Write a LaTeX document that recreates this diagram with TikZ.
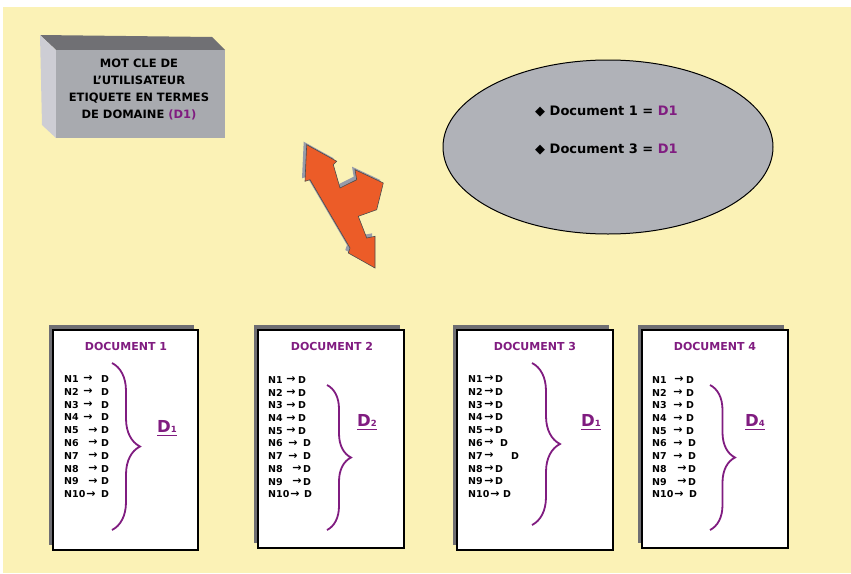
\documentclass[tikz,border=0pt]{standalone}
\usepackage{fontspec}
\setmainfont{DejaVu Sans}
\usetikzlibrary{decorations.pathreplacing,shapes.geometric}
\definecolor{bg}{RGB}{251,242,182}
\definecolor{purp}{RGB}{128,28,128}
\definecolor{orng}{RGB}{236,92,40}
\definecolor{boxfront}{RGB}{168,170,175}
\definecolor{boxtop}{RGB}{112,112,116}
\definecolor{boxside}{RGB}{205,205,212}
\definecolor{ellfill}{RGB}{176,178,184}
\definecolor{shad}{RGB}{110,110,115}
\definecolor{arrshad}{RGB}{150,155,170}
\tikzset{
  page/.style={draw=black, line width=1.6pt, fill=white},
  pageshadow/.style={fill=shad},
  doctitle/.style={text=purp, font=\bfseries\fontsize{11}{13}\selectfont, inner sep=0pt},
  linetxt/.style={font=\bfseries\fontsize{9.5}{10}\selectfont, inner sep=0pt, anchor=west},
  arr/.style={font=\bfseries\fontsize{11}{11}\selectfont, inner sep=0pt},
  dbrace/.style={draw=purp, line width=1.8pt, decorate},
  dlabel/.style={text=purp, font=\bfseries\fontsize{16.5}{18}\selectfont, inner sep=0pt, anchor=base west},
  ultxt/.style={draw=purp, line width=1.2pt},
  elltxt/.style={font=\bfseries\fontsize{13}{15}\selectfont, inner sep=0pt, anchor=west}
}
\begin{document}
\begin{tikzpicture}[x=1pt,y=-1pt]
\useasboundingbox (0,0) rectangle (851,573);
\fill[white] (0,0) rectangle (851,573);
\fill[bg] (3,7) rectangle (851,573);

% 3D box
\fill[boxtop] (40,35) -- (212,37) -- (225,50) -- (56,50) -- cycle;
\fill[boxside] (40,35) -- (56,50) -- (56,138) -- (42,125) -- cycle;
\fill[boxfront] (56,50) rectangle (225,138);
\node[name=kw, font=\bfseries\fontsize{11.5}{17}\selectfont, align=center, inner sep=0pt] at (139,89)
  {MOT CLE DE\\L’UTILISATEUR\\ETIQUETE EN TERMES\\DE DOMAINE \textcolor{purp}{(D1)}};

% orange double arrow (shadow then arrow)
\def\arrowpath{(306.7,144.7) -- (336.7,161.3) -- (333.3,164.7) -- (340,188) -- (356.7,179.7) -- (355,169.7) -- (383.3,183) -- (376.7,209.7) -- (358.3,216.3) -- (366.7,238) -- (375,236.3) -- (375,268) -- (348.3,253) -- (350,248) -- (310,179.7) -- (305,181.3) -- cycle}
\begin{scope}[shift={(-3,-3)}]
\fill[arrshad] \arrowpath;
\end{scope}
\filldraw[fill=orng, draw=black!70, line width=0.6pt] \arrowpath;

% ellipse
\node[name=ell, ellipse, draw=black, line width=1pt, fill=ellfill, minimum width=330, minimum height=174, inner sep=0pt] at (608,147) {};
\node[name=e1, elltxt] at (535,112) {◆ Document 1 = \textcolor{purp}{D1}};
\node[name=e2, elltxt] at (535,149) {◆ Document 3 = \textcolor{purp}{D1}};

% ---------- Document 1
\fill[pageshadow] (49,325) rectangle (194,545);
\draw[page] (53,330) rectangle (198,550);
\node[name=t1, doctitle] at (126,346) {DOCUMENT 1};
\foreach \i/\ax/\dx in {1/88/101,2/88/101,3/88/101,4/88/101,5/93/101,6/93/101,7/93/101,8/93/101,9/93/101,10/91/101}{
  \node[name=a-n\i, linetxt] at (64,{379+(\i-1)*12.8}) {N\i};
  \node[name=a-a\i, arr] at (\ax,{379+(\i-1)*12.8}) {→};
  \node[name=a-d\i, linetxt] at (\dx,{379+(\i-1)*12.8}) {D};
}
\coordinate (b1t) at (112,363); \coordinate (b1b) at (112,530);
\draw[dbrace, decoration={brace, amplitude=28pt}] (b1t) -- (b1b);
\node[name=l1, dlabel] at (157,432) {D{\fontsize{8.5}{9}\selectfont 1}};
\draw[ultxt] ([yshift=-3.5pt]l1.base west) -- ([yshift=-3.5pt]l1.base east);

% ---------- Document 2
\fill[pageshadow] (254,325) rectangle (400,543);
\draw[page] (258,330) rectangle (404,548);
\node[name=t2, doctitle] at (332,346) {DOCUMENT 2};
\foreach \i/\ax/\dx in {1/291/298,2/291/298,3/291/298,4/291/298,5/291/298,6/293/303,7/293/303,8/297/303,9/297/303,10/295/304}{
  \node[name=b-n\i, linetxt] at (268,{380+(\i-1)*12.7}) {N\i};
  \node[name=b-a\i, arr] at (\ax,{380+(\i-1)*12.7}) {→};
  \node[name=b-d\i, linetxt] at (\dx,{380+(\i-1)*12.7}) {D};
}
\coordinate (b2t) at (327,385); \coordinate (b2b) at (327,530);
\draw[dbrace, decoration={brace, amplitude=24pt}] (b2t) -- (b2b);
\node[name=l2, dlabel] at (357,426) {D{\fontsize{8.5}{9}\selectfont 2}};
\draw[ultxt] ([yshift=-3.5pt]l2.base west) -- ([yshift=-3.5pt]l2.base east);

% ---------- Document 3
\fill[pageshadow] (453,325) rectangle (609,545);
\draw[page] (457,330) rectangle (613,550);
\node[name=t3, doctitle] at (535,346) {DOCUMENT 3};
\foreach \i/\ax/\dx in {1/489/495,2/489/495,3/489/495,4/489/495,5/489/495,6/489/500,7/489/511,8/489/495,9/489/495,10/495/503}{
  \node[name=c-n\i, linetxt] at (468,{379+(\i-1)*12.8}) {N\i};
  \node[name=c-a\i, arr] at (\ax,{379+(\i-1)*12.8}) {→};
  \node[name=c-d\i, linetxt] at (\dx,{379+(\i-1)*12.8}) {D};
}
\coordinate (b3t) at (532,363); \coordinate (b3b) at (532,525);
\draw[dbrace, decoration={brace, amplitude=28pt}] (b3t) -- (b3b);
\node[name=l3, dlabel] at (581,426) {D{\fontsize{8.5}{9}\selectfont 1}};
\draw[ultxt] ([yshift=-3.5pt]l3.base west) -- ([yshift=-3.5pt]l3.base east);

% ---------- Document 4
\fill[pageshadow] (638,325) rectangle (784,543);
\draw[page] (642,330) rectangle (788,548);
\node[name=t4, doctitle] at (715,346) {DOCUMENT 4};
\foreach \i/\ax/\dx in {1/679/686,2/678/686,3/678/686,4/678/686,5/678/686,6/678/688,7/678/688,8/682/688,9/682/688,10/679/689}{
  \node[name=d-n\i, linetxt] at (652,{380+(\i-1)*12.7}) {N\i};
  \node[name=d-a\i, arr] at (\ax,{380+(\i-1)*12.7}) {→};
  \node[name=d-d\i, linetxt] at (\dx,{380+(\i-1)*12.7}) {D};
}
\coordinate (b4t) at (710,385); \coordinate (b4b) at (710,530);
\draw[dbrace, decoration={brace, amplitude=25pt}] (b4t) -- (b4b);
\node[name=l4, dlabel] at (745,426) {D{\fontsize{8.5}{9}\selectfont 4}};
\draw[ultxt] ([yshift=-3.5pt]l4.base west) -- ([yshift=-3.5pt]l4.base east);
\end{tikzpicture}
\end{document}
